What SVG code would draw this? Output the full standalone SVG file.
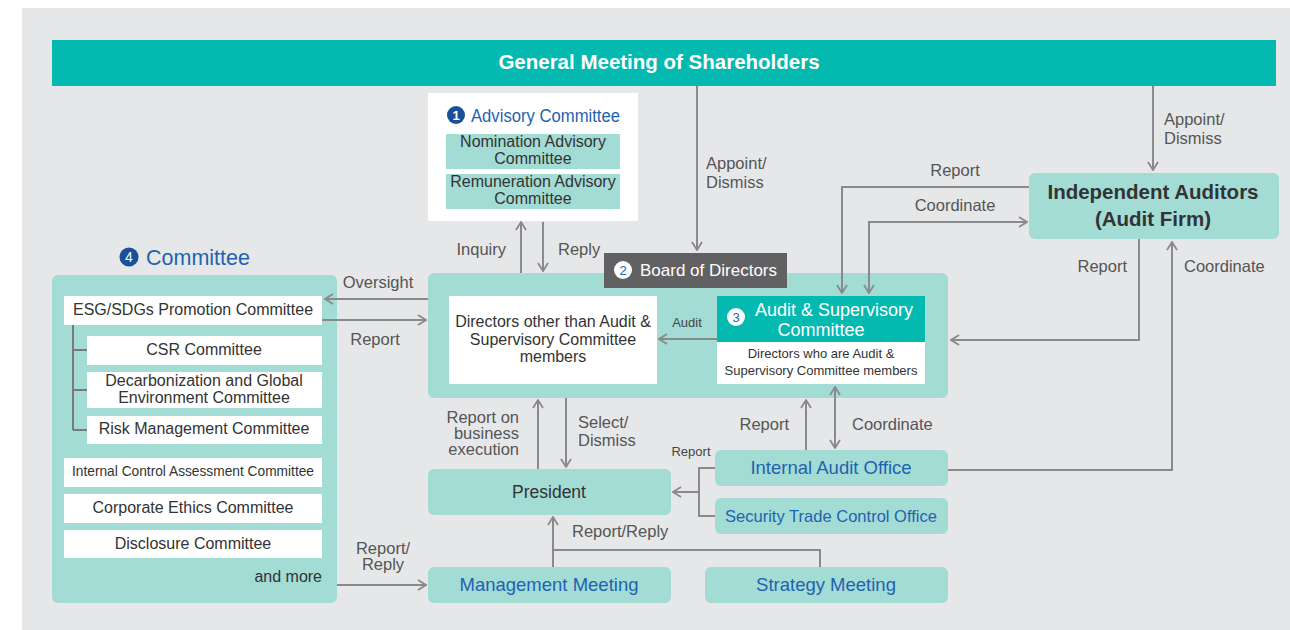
<svg xmlns="http://www.w3.org/2000/svg" width="1290" height="630" viewBox="0 0 1290 630">
<defs>
<style>
text{font-family:"Liberation Sans",Arial,sans-serif;}
.t{font-size:16px;fill:#333;}
.tb{font-size:18.5px;fill:#1f63b0;}
.lb{font-size:16.5px;fill:#555;}
.sm{font-size:13px;fill:#444;}
.box{fill:#a3dbd5;}
.wb{fill:#fff;}
.c{stroke:#8a8a8c;stroke-width:2;fill:none;}
.a{marker-end:url(#ah);}
.s{marker-start:url(#ah);}
</style>
<marker id="ah" viewBox="0 0 10 12" refX="9" refY="6" markerWidth="10" markerHeight="12" markerUnits="userSpaceOnUse" orient="auto-start-reverse">
<path d="M1,1 L9,6 L1,11" fill="none" stroke="#8a8a8c" stroke-width="1.8"/>
</marker>
</defs>
<rect x="0" y="0" width="1290" height="630" fill="#fff"/>
<rect x="22" y="8" width="1268" height="622" fill="#e6e7e9"/>

<g id="gm">
<rect x="52" y="40" width="1224" height="46" fill="#04b9b0"/>
<text x="659" y="69" text-anchor="middle" font-size="20.5" font-weight="bold" fill="#fff">General Meeting of Shareholders</text>
</g>

<g id="advisory">
<rect x="428" y="93" width="210" height="128" fill="#fff"/>
<circle cx="456" cy="115" r="9" fill="#1a4f9a"/>
<text x="456" y="120" text-anchor="middle" font-size="13" font-weight="bold" fill="#fff">1</text>
<text x="471" y="122" font-size="18" fill="#1f63b0" textLength="149" lengthAdjust="spacingAndGlyphs">Advisory Committee</text>
<rect class="box" x="446" y="134" width="174" height="35"/>
<text class="t" x="533" y="147" text-anchor="middle">Nomination Advisory</text>
<text class="t" x="533" y="164" text-anchor="middle">Committee</text>
<rect class="box" x="446" y="174" width="174" height="35"/>
<text class="t" x="533" y="187" text-anchor="middle">Remuneration Advisory</text>
<text class="t" x="533" y="204" text-anchor="middle">Committee</text>
</g>

<g id="committee">
<circle cx="129" cy="257" r="9.5" fill="#1a4f9a"/>
<text x="129" y="262" text-anchor="middle" font-size="14" fill="#fff">4</text>
<text x="146" y="265" font-size="21.5" fill="#1f63b0">Committee</text>
<rect class="box" x="52" y="275" width="285" height="328" rx="6"/>
<path d="M73,325 V430 M73,350 H87 M73,390 H87 M73,430 H87" stroke="#7a7a7c" stroke-width="2" fill="none"/>
<rect class="wb" x="64" y="296" width="258" height="29"/>
<text class="t" x="193" y="315" text-anchor="middle">ESG/SDGs Promotion Committee</text>
<rect class="wb" x="87" y="336" width="235" height="29"/>
<text class="t" x="204" y="355" text-anchor="middle">CSR Committee</text>
<rect class="wb" x="87" y="372" width="235" height="36"/>
<text class="t" x="204" y="386" text-anchor="middle">Decarbonization and Global</text>
<text class="t" x="204" y="403" text-anchor="middle">Environment Committee</text>
<rect class="wb" x="87" y="416" width="235" height="28"/>
<text class="t" x="204" y="434" text-anchor="middle">Risk Management Committee</text>
<rect class="wb" x="64" y="458" width="258" height="29"/>
<text class="t" x="193" y="476" text-anchor="middle" style="font-size:14.5px" textLength="242" lengthAdjust="spacingAndGlyphs">Internal Control Assessment Committee</text>
<rect class="wb" x="64" y="494" width="258" height="29"/>
<text class="t" x="193" y="513" text-anchor="middle">Corporate Ethics Committee</text>
<rect class="wb" x="64" y="530" width="258" height="28"/>
<text class="t" x="193" y="549" text-anchor="middle">Disclosure Committee</text>
<text class="t" x="322" y="582" text-anchor="end">and more</text>
</g>

<g id="board">
<rect class="box" x="428" y="273" width="520" height="125" rx="6"/>
<rect x="604" y="253" width="183" height="35" fill="#616163"/>
<circle cx="623" cy="270" r="9" fill="#fff"/>
<text x="623" y="275" text-anchor="middle" font-size="13" fill="#1f63b0">2</text>
<text x="640" y="276" font-size="17" fill="#fff">Board of Directors</text>
<rect class="wb" x="449" y="296" width="208" height="88"/>
<text class="t" x="553" y="327" text-anchor="middle">Directors other than Audit &amp;</text>
<text class="t" x="553" y="345" text-anchor="middle">Supervisory Committee</text>
<text class="t" x="553" y="362" text-anchor="middle">members</text>
</g>

<g id="audit-committee">
<rect x="717" y="296" width="208" height="46" fill="#04b9b0"/>
<rect class="wb" x="717" y="342" width="208" height="42"/>
<circle cx="736" cy="317" r="9" fill="#fff"/>
<text x="736" y="322" text-anchor="middle" font-size="13" fill="#1f63b0">3</text>
<text x="834" y="316" text-anchor="middle" font-size="18" fill="#fff">Audit &amp; Supervisory</text>
<text x="821" y="336" text-anchor="middle" font-size="18" fill="#fff">Committee</text>
<text x="821" y="358" text-anchor="middle" font-size="13" fill="#333">Directors who are Audit &amp;</text>
<text x="821" y="375" text-anchor="middle" font-size="13" fill="#333">Supervisory Committee members</text>
</g>

<g id="auditors">
<rect class="box" x="1029" y="173" width="250" height="66" rx="6"/>
<text x="1153" y="199" text-anchor="middle" font-size="20.5" font-weight="bold" fill="#333">Independent Auditors</text>
<text x="1153" y="226" text-anchor="middle" font-size="20.5" font-weight="bold" fill="#333">(Audit Firm)</text>
</g>

<g id="president">
<rect class="box" x="428" y="469" width="243" height="46" rx="6"/>
<text x="549" y="498" text-anchor="middle" font-size="17.5" fill="#333">President</text>
</g>

<g id="internal-audit">
<rect class="box" x="715" y="450" width="233" height="36" rx="6"/>
<text class="tb" x="831" y="474" text-anchor="middle">Internal Audit Office</text>
</g>

<g id="security-trade">
<rect class="box" x="715" y="498" width="233" height="36" rx="6"/>
<text class="tb" x="831" y="522" text-anchor="middle" style="font-size:17px" textLength="212" lengthAdjust="spacingAndGlyphs">Security Trade Control Office</text>
</g>

<g id="management-meeting">
<rect class="box" x="428" y="567" width="243" height="36" rx="6"/>
<text class="tb" x="549" y="591" text-anchor="middle">Management Meeting</text>
</g>

<g id="strategy-meeting">
<rect class="box" x="705" y="567" width="243" height="36" rx="6"/>
<text class="tb" x="826" y="591" text-anchor="middle">Strategy Meeting</text>
</g>

<g id="connectors">
<path class="c a" d="M697,86 V250"/>
<path class="c a" d="M1153,86 V170"/>
<path class="c a" d="M521,273 V222"/>
<path class="c a" d="M543,222 V271"/>
<path class="c a" d="M428,299 H325"/>
<path class="c a" d="M322,320 H426"/>
<path class="c a" d="M717,339 H659"/>
<path class="c a" d="M1029,187 H842 V293"/>
<path class="c s a" d="M869,293 V222 H1027"/>
<path class="c a" d="M1139,239 V340 H951"/>
<path class="c a" d="M948,470 H1172 V242"/>
<path class="c a" d="M538,469 V400"/>
<path class="c a" d="M566,398 V467"/>
<path class="c a" d="M806,450 V400"/>
<path class="c s a" d="M835,387 V448"/>
<path class="c" d="M715,468 H699 V516 H715"/>
<path class="c a" d="M699,492 H673"/>
<path class="c a" d="M553,567 V517"/>
<path class="c" d="M553,550 H820 V567"/>
<path class="c a" d="M337,585 H426"/>
</g>

<g id="labels">
<text class="lb" x="506" y="255" text-anchor="end">Inquiry</text>
<text class="lb" x="558" y="255">Reply</text>
<text class="lb" x="706" y="169">Appoint/</text>
<text class="lb" x="706" y="188">Dismiss</text>
<text class="lb" x="1164" y="125">Appoint/</text>
<text class="lb" x="1164" y="144">Dismiss</text>
<text class="lb" x="378" y="288" text-anchor="middle">Oversight</text>
<text class="lb" x="375" y="345" text-anchor="middle">Report</text>
<text class="sm" x="687" y="327" text-anchor="middle">Audit</text>
<text class="lb" x="955" y="176" text-anchor="middle">Report</text>
<text class="lb" x="955" y="211" text-anchor="middle">Coordinate</text>
<text class="lb" x="1127" y="272" text-anchor="end">Report</text>
<text class="lb" x="1184" y="272">Coordinate</text>
<text class="lb" x="519" y="423" text-anchor="end">Report on</text>
<text class="lb" x="519" y="439" text-anchor="end">business</text>
<text class="lb" x="519" y="455" text-anchor="end">execution</text>
<text class="lb" x="578" y="428">Select/</text>
<text class="lb" x="578" y="446">Dismiss</text>
<text class="sm" x="691" y="456" text-anchor="middle">Report</text>
<text class="lb" x="789" y="430" text-anchor="end">Report</text>
<text class="lb" x="852" y="430">Coordinate</text>
<text class="lb" x="572" y="537">Report/Reply</text>
<text class="lb" x="383" y="554" text-anchor="middle">Report/</text>
<text class="lb" x="383" y="570" text-anchor="middle">Reply</text>
</g>
</svg>
